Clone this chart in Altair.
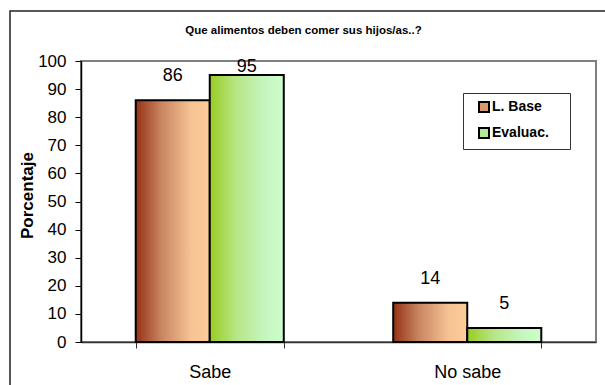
import altair as alt
import pandas as pd

# ---- data ----
categories = ["Sabe", "No sabe"]
series = ["L. Base", "Evaluac."]
l_base = [86, 14]
evaluac = [95, 5]
y_ticks = [0, 10, 20, 30, 40, 50, 60, 70, 80, 90, 100]

rows = []
for i, c in enumerate(categories):
    rows.append({"cat": c, "serie": series[0], "val": l_base[i]})
    rows.append({"cat": c, "serie": series[1], "val": evaluac[i]})
df = pd.DataFrame(rows)

FONT = "Liberation Sans Narrow, Arial Narrow, Liberation Sans, Arial"

x_enc = alt.X(
    "cat:N",
    sort=categories,
    scale=alt.Scale(paddingInner=0.425, paddingOuter=0.2125),
    axis=alt.Axis(
        title=None, labelAngle=0, tickBand="extent", grid=False,
        labelFont=FONT, labelFontSize=18, labelColor="black", labelPadding=15,
        tickSize=6, tickColor="#333", domainColor="#333", domainWidth=1.5,
    ),
)
xoff = alt.XOffset("serie:N", sort=series,
                   scale=alt.Scale(paddingInner=0, paddingOuter=0))
y_axis = alt.Axis(
    values=y_ticks, grid=False, title="Porcentaje",
    labelFont=FONT, labelFontSize=17, labelColor="black", labelPadding=9,
    tickSize=6, tickColor="black", domainColor="black", domainWidth=1.5,
    titleFont=FONT, titleFontSize=17, titleFontWeight="bold", titleColor="black",
    titleAngle=-90, titleX=-54, titleY=134, titleAlign="center", titleBaseline="middle",
)
y_scale = alt.Scale(domain=[0, 100], nice=False)

grad_base = alt.LinearGradient(
    gradient="linear", x1=0, x2=1, y1=0, y2=0,
    stops=[alt.GradientStop(color="#953214", offset=0),
           alt.GradientStop(color="#c98660", offset=0.35),
           alt.GradientStop(color="#f6c393", offset=0.75),
           alt.GradientStop(color="#fdcc99", offset=1)],
)
grad_eval = alt.LinearGradient(
    gradient="linear", x1=0, x2=1, y1=0, y2=0,
    stops=[alt.GradientStop(color="#99cc22", offset=0),
           alt.GradientStop(color="#b6e584", offset=0.35),
           alt.GradientStop(color="#c6f6c0", offset=0.75),
           alt.GradientStop(color="#ccffcc", offset=1)],
)

base = alt.Chart(df)

frame = alt.Chart(pd.DataFrame({"a": [0]})).mark_rect(
    fill="transparent", stroke="#222", strokeWidth=1.5
).encode(x=alt.value(-71), x2=alt.value(560), y=alt.value(-50), y2=alt.value(420))

bars_base = base.transform_filter(alt.datum.serie == series[0]).mark_bar(
    fill=grad_base, stroke="black", strokeWidth=2
).encode(x=x_enc, xOffset=xoff, y=alt.Y("val:Q", scale=y_scale, axis=y_axis))

bars_eval = base.transform_filter(alt.datum.serie == series[1]).mark_bar(
    fill=grad_eval, stroke="black", strokeWidth=2
).encode(x=x_enc, xOffset=xoff, y=alt.Y("val:Q", scale=y_scale, axis=y_axis))

legend_layer = base.mark_square(size=0).encode(
    x=x_enc, xOffset=xoff, y=alt.Y("val:Q", scale=y_scale, axis=y_axis),
    color=alt.Color(
        "serie:N", sort=series,
        scale=alt.Scale(domain=series, range=["#d99a70", "#b3ea99"]),
        legend=alt.Legend(
            title=None, orient="none", legendX=382, legendY=32,
            strokeColor="#333", fillColor="white", padding=7,
            symbolType="square", symbolSize=100, symbolStrokeColor="black",
            symbolStrokeWidth=2, symbolOpacity=1, symbolOffset=7,
            labelFont=FONT, labelFontSize=14, labelFontWeight="bold",
            labelColor="black", labelOffset=1, rowPadding=8,
            labelExpr="datum.label + '\u00a0\u2800'",
        ),
    ),
)

labels = base.transform_calculate(
    pos="min(datum.val + 8.5, 97.9)"
).mark_text(font=FONT, fontSize=18, color="black", baseline="middle").encode(
    x=x_enc, xOffset=xoff,
    y=alt.Y("pos:Q", scale=y_scale, axis=y_axis),
    text="val:Q",
)

chart = alt.layer(frame, bars_base, bars_eval, legend_layer, labels).properties(
    width=515, height=281,
    autosize=alt.AutoSizeParams(type="none"),
    padding={"left": 81, "top": 61, "right": 9, "bottom": 43},
    background="white",
    title=alt.Title(
        "Que alimentos deben comer sus hijos/as..?",
        font=FONT, fontSize=11.5, fontWeight="bold", color="black",
        anchor="middle", frame="group", dx=-35, offset=-32, baseline="middle",
    ),
).configure_view(stroke="#808080", strokeWidth=2)

chart.save("out.html", embed_options={"renderer": "svg", "actions": False})
